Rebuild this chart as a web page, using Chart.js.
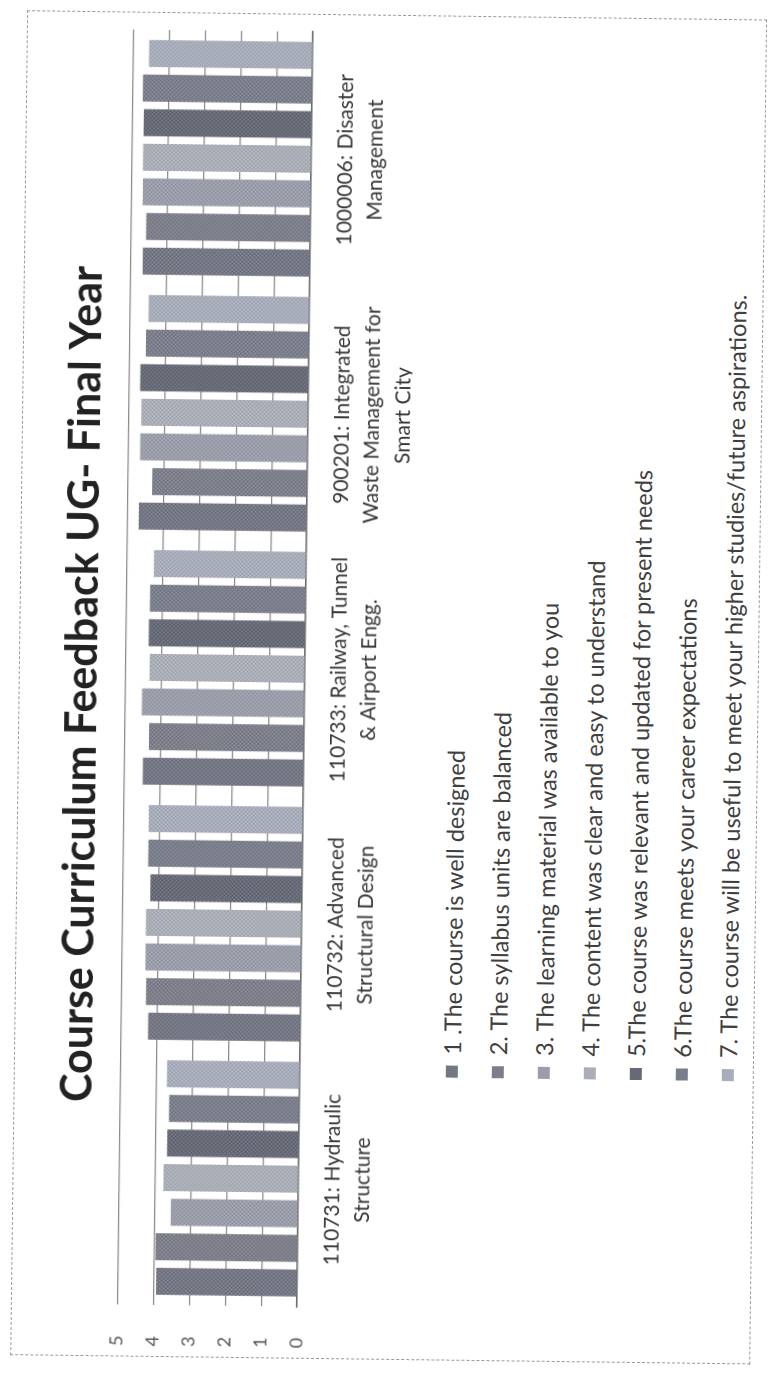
<!DOCTYPE html>
<html>
<head>
<meta charset="utf-8">
<script src="https://cdn.jsdelivr.net/npm/chart.js@4.4.1/dist/chart.umd.min.js"></script>
<style>
  html, body { margin: 0; padding: 0; background: #fff; overflow: hidden; width: 770px; height: 1373px; }
  /* the sheet is laid out upright and turned onto the portrait page */
  #sheet { position: absolute; left: 0; top: 0; width: 1373px; height: 770px;
           transform-origin: 0 0; transform: translate(0px, 1373px) rotate(-89.28deg); }
  #frame { position: absolute; left: 18px; top: 10px; width: 1345px; height: 740px;
           border: 1px dashed #9a9a9a; box-sizing: border-box; }
  #chart { position: absolute; left: 0; top: 0; }
  #legend { position: absolute; left: 301px; top: 425px; font-family: Lato, sans-serif;
            font-size: 23.5px; color: #404040; }
  #legend .row { height: 46px; display: flex; align-items: center; white-space: nowrap; }
  #legend .sw { width: 12px; height: 12px; margin-right: 11px; flex: none; }
</style>
</head>
<body>
<div id="sheet">
  <div id="frame"></div>
  <canvas id="chart" width="1373" height="400"></canvas>
  <div id="legend"></div>
</div>
<script>
const TITLE = 'Course Curriculum Feedback UG- Final Year';

const courses = [
  ['110731: Hydraulic', 'Structure'],
  ['110732: Advanced', 'Structural Design'],
  ['110733: Railway, Tunnel', '& Airport Engg.'],
  ['900201: Integrated', 'Waste Management for', 'Smart City'],
  ['1000006: Disaster', 'Management']
];

const questions = [
  '1 .The course is well designed',
  '2. The syllabus units are balanced',
  '3. The learning material was available to you',
  '4. The content was clear and easy to understand',
  '5.The course was relevant and updated for present needs',
  '6.The course meets your career expectations',
  '7. The course will be useful to meet your higher studies/future aspirations.'
];

// average rating per course, one array per question
const q1 = [3.93, 4.24, 4.48, 4.68, 4.66];
const q2 = [3.96, 4.31, 4.32, 4.32, 4.58];
const q3 = [3.55, 4.34, 4.53, 4.67, 4.68];
const q4 = [3.76, 4.34, 4.33, 4.65, 4.69];
const q5 = [3.67, 4.23, 4.36, 4.69, 4.68];
const q6 = [3.63, 4.30, 4.34, 4.54, 4.72];
const q7 = [3.70, 4.30, 4.24, 4.48, 4.56];

const yTicks = [0, 1, 2, 3, 4, 5];

const shades = ['#737683', '#7c7f8a', '#9a9eaa', '#aaaeb7', '#666a76', '#7a7e8b', '#a8adbb'];

// printed halftone look for the bar fills
function halftone(hex) {
  const c = document.createElement('canvas');
  c.width = c.height = 4;
  const g = c.getContext('2d');
  g.fillStyle = hex; g.fillRect(0, 0, 4, 4);
  g.fillStyle = 'rgba(255,255,255,0.20)';
  g.fillRect(0, 0, 1, 1); g.fillRect(2, 2, 1, 1);
  g.fillStyle = 'rgba(0,0,0,0.10)';
  g.fillRect(2, 0, 1, 1); g.fillRect(0, 2, 1, 1);
  return g.createPattern(c, 'repeat');
}

const series = [q1, q2, q3, q4, q5, q6, q7];
const datasets = series.map((vals, i) => ({
  label: questions[i],
  data: vals,
  yAxisID: 'y',
  backgroundColor: halftone(shades[i]),
  swatch: shades[i],
  borderWidth: 0,
  categoryPercentage: 0.95,
  barPercentage: 0.78
}));

const chart = new Chart(document.getElementById('chart'), {
  type: 'bar',
  data: { labels: courses, datasets },
  options: {
    responsive: false,
    animation: false,
    layout: { padding: { left: 7, right: 0, top: 0, bottom: 0 } },
    plugins: {
      legend: { display: false },
      tooltip: { enabled: false },
      title: {
        display: true, text: TITLE, color: '#222',
        font: { family: 'Lato', size: 43, weight: 'bold', lineHeight: 1.2 },
        padding: { top: 48, bottom: 17 }
      }
    },
    scales: {
      x: {
        grid: { display: false, drawTicks: false },
        border: { display: true, color: '#6a6a6a', width: 1.5 },
        ticks: { autoSkip: false, maxRotation: 0, padding: 19, color: '#383838',
                 font: { family: 'Lato', size: 21, lineHeight: 1.45 } },
        afterFit(s) { s.height = 104; }
      },
      y: {
        min: 0, max: 5,
        afterBuildTicks(s) { s.ticks = yTicks.map(v => ({ value: v })); },
        ticks: { padding: 31, color: '#555', font: { family: 'Lato', size: 18 } },
        grid: { color: '#8a8a8a', lineWidth: 1.2, drawTicks: false },
        border: { display: false },
        afterFit(s) { s.width = 63; }
      },
      // empty margin on the right of the plot
      yRight: {
        position: 'right', min: 0, max: 5,
        grid: { display: false, drawTicks: false },
        ticks: { display: false },
        border: { display: false },
        afterFit(s) { s.width = 28; }
      }
    }
  }
});

// legend, one entry per line, built from the chart's datasets
const legend = document.getElementById('legend');
chart.data.datasets.forEach(ds => {
  const row = document.createElement('div');
  row.className = 'row';
  const sw = document.createElement('span');
  sw.className = 'sw';
  sw.style.background = ds.swatch;
  const tx = document.createElement('span');
  tx.textContent = ds.label;
  row.appendChild(sw); row.appendChild(tx);
  legend.appendChild(row);
});
</script>
</body>
</html>
